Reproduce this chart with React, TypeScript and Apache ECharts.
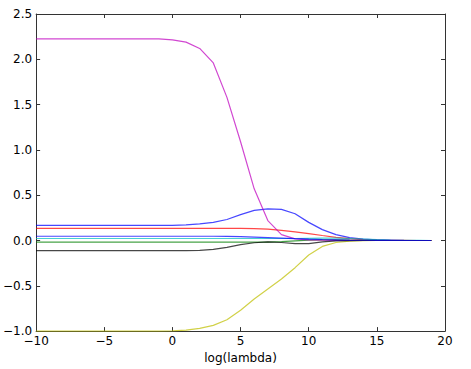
import React, { useEffect, useRef } from "react";
import * as echarts from "echarts";

const logLambda = [-10, -9, -8, -7, -6, -5, -4, -3, -2, -1, 0, 1, 2, 3, 4, 5, 6, 7, 8, 9, 10, 11, 12, 13, 14, 15, 16, 17, 18, 19];

const coefB1 = [0.166, 0.166, 0.166, 0.166, 0.166, 0.166, 0.166, 0.166, 0.166, 0.166, 0.166, 0.172, 0.183, 0.2, 0.232, 0.285, 0.333, 0.35, 0.343, 0.295, 0.2, 0.12, 0.065, 0.032, 0.015, 0.007, 0.003, 0.001, 0, 0];
const coefG = [-0.018, -0.018, -0.018, -0.018, -0.018, -0.018, -0.018, -0.018, -0.018, -0.018, -0.018, -0.018, -0.018, -0.018, -0.018, -0.018, -0.018, -0.018, -0.012, -0.004, 0.004, 0.008, 0.007, 0.004, 0.002, 0.001, 0, 0, 0, 0];
const coefR = [0.134, 0.134, 0.134, 0.134, 0.134, 0.134, 0.134, 0.134, 0.134, 0.134, 0.134, 0.134, 0.134, 0.134, 0.134, 0.134, 0.131, 0.125, 0.112, 0.096, 0.076, 0.055, 0.035, 0.02, 0.01, 0.005, 0.002, 0.001, 0, 0];
const coefC = [0.022, 0.022, 0.022, 0.022, 0.022, 0.022, 0.022, 0.022, 0.022, 0.022, 0.022, 0.022, 0.022, 0.022, 0.022, 0.022, 0.022, 0.022, 0.022, 0.022, 0.024, 0.026, 0.026, 0.022, 0.016, 0.01, 0.005, 0.002, 0.001, 0];
const coefM = [2.225, 2.225, 2.225, 2.225, 2.225, 2.225, 2.225, 2.225, 2.225, 2.225, 2.215, 2.19, 2.12, 1.96, 1.58, 1.09, 0.57, 0.22, 0.065, 0.018, 0.006, 0.003, 0.001, 0, 0, 0, 0, 0, 0, 0];
const coefY = [-1.0, -1.0, -1.0, -1.0, -1.0, -1.0, -1.0, -1.0, -1.0, -1.0, -0.998, -0.99, -0.97, -0.937, -0.875, -0.77, -0.645, -0.535, -0.425, -0.3, -0.16, -0.065, -0.022, -0.007, -0.002, 0, 0, 0, 0, 0];
const coefK = [-0.112, -0.112, -0.112, -0.112, -0.112, -0.112, -0.112, -0.112, -0.112, -0.112, -0.112, -0.112, -0.108, -0.098, -0.075, -0.045, -0.025, -0.016, -0.022, -0.035, -0.034, -0.015, -0.005, -0.002, 0, 0, 0, 0, 0, 0];
const coefB2 = [0.047, 0.047, 0.047, 0.047, 0.047, 0.047, 0.047, 0.047, 0.047, 0.047, 0.047, 0.047, 0.047, 0.047, 0.045, 0.042, 0.038, 0.032, 0.026, 0.02, 0.015, 0.011, 0.008, 0.005, 0.003, 0.002, 0.001, 0, 0, 0];

const seriesList = [
  { name: "b", color: "#0000ff", values: coefB1 },
  { name: "g", color: "#008000", values: coefG },
  { name: "r", color: "#ff0000", values: coefR },
  { name: "c", color: "#00bfbf", values: coefC },
  { name: "m", color: "#bf00bf", values: coefM },
  { name: "y", color: "#bfbf00", values: coefY },
  { name: "k", color: "#000000", values: coefK },
  { name: "b2", color: "#0000ff", values: coefB2 },
];

const minus = (s: string) => s.replace("-", "\u2212");

export default function App() {
  const ref = useRef<HTMLDivElement>(null);
  useEffect(() => {
    document.body.style.margin = "0";
    const chart = echarts.init(ref.current!, null, { renderer: "svg" });
    const font = "DejaVu Sans";
    const axisLine = { show: true, onZero: false, lineStyle: { color: "#333", width: 1 } };
    const tick = { show: true, inside: true, length: 4, lineStyle: { color: "#333" } };
    chart.setOption({
      animation: false,
      backgroundColor: "#ffffff",
      grid: { left: 32, right: 26, top: 14, bottom: 33 },
      xAxis: [
        {
          type: "value",
          min: -10,
          max: 20,
          interval: 5,
          position: "bottom",
          name: "log(lambda)",
          nameLocation: "middle",
          nameGap: 19,
          nameTextStyle: { fontFamily: font, fontSize: 12, color: "#000" },
          axisLine,
          axisTick: tick,
          axisLabel: { fontFamily: font, fontSize: 12, color: "#000", margin: 4, formatter: (v: number) => minus(String(v)) },
          splitLine: { show: false },
        },
        {
          type: "value",
          min: -10,
          max: 20,
          interval: 5,
          position: "top",
          axisLine,
          axisTick: tick,
          axisLabel: { show: false },
          splitLine: { show: false },
        },
      ],
      yAxis: [
        {
          type: "value",
          min: -1,
          max: 2.5,
          interval: 0.5,
          position: "left",
          axisLine,
          axisTick: tick,
          axisLabel: { fontFamily: font, fontSize: 12, color: "#000", margin: 4, formatter: (v: number) => minus(v.toFixed(1)) },
          splitLine: { show: false },
        },
        {
          type: "value",
          min: -1,
          max: 2.5,
          interval: 0.5,
          position: "right",
          axisLine,
          axisTick: tick,
          axisLabel: { show: false },
          splitLine: { show: false },
        },
      ],
      series: seriesList.map((s) => ({
        name: s.name,
        type: "line",
        xAxisIndex: 0,
        yAxisIndex: 0,
        showSymbol: false,
        symbol: "none",
        data: logLambda.map((x, i) => [x, s.values[i]]),
        lineStyle: { color: s.color, width: 1.2, opacity: 0.72 },
        itemStyle: { color: s.color },
      })),
    });
    return () => chart.dispose();
  }, []);
  return <div ref={ref} style={{ width: 471, height: 369 }} />;
}
